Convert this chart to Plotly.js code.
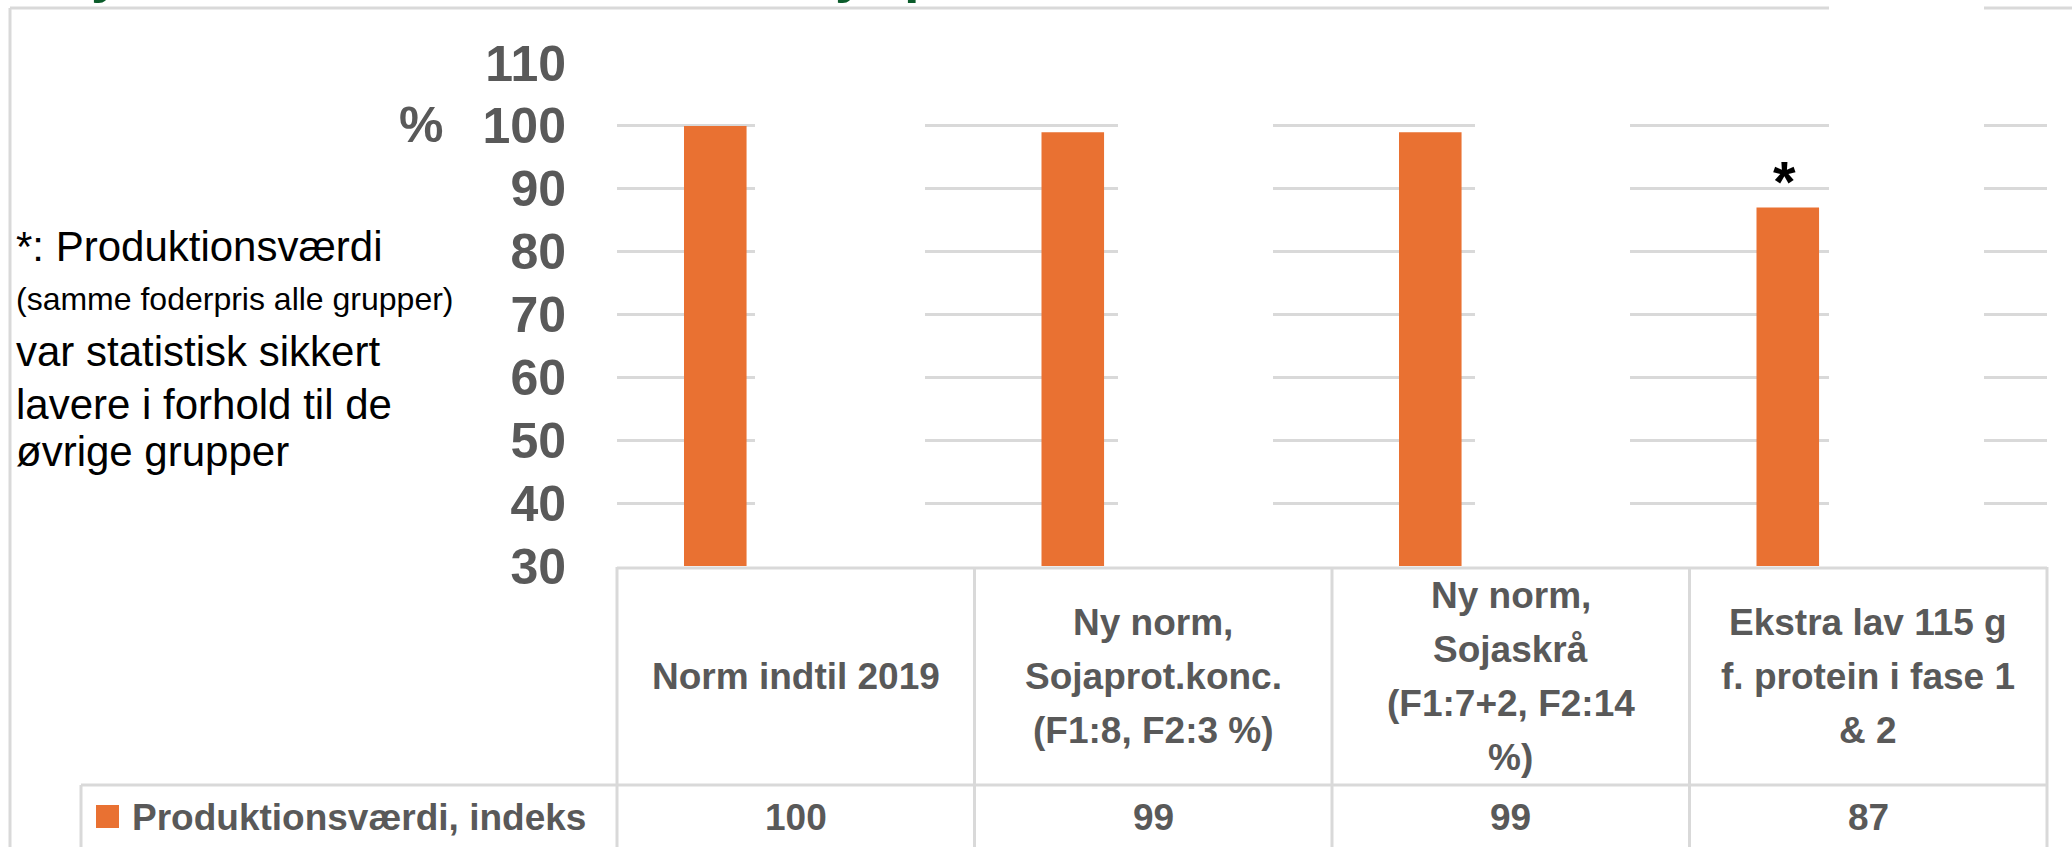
<!DOCTYPE html>
<html>
<head>
<meta charset="utf-8">
<script src="https://cdn.plot.ly/plotly-3.0.1.min.js"></script>
<style>
  html, body { margin: 0; padding: 0; background: #ffffff; }
  #chart { width: 2072px; height: 847px; }
</style>
</head>
<body>
<div id="chart"></div>
<script>
// ---------------- data ----------------
const categoryLines = [
  ["Norm indtil 2019"],
  ["Ny norm,", "Sojaprot.konc.", "(F1:8, F2:3 %)"],
  ["Ny norm,", "Sojaskrå", "(F1:7+2, F2:14", "%)"],
  ["Ekstra lav 115 g", "f. protein i fase 1", "& 2"]
];
const categories = categoryLines.map(l => l.join(" "));
const values = [100, 99, 99, 87];
const seriesName = "Produktionsværdi, indeks";
const significant = [false, false, false, true];
const yTicks = [30, 40, 50, 60, 70, 80, 90, 100, 110];
const yUnit = "%";
const noteLines = [
  "*: Produktionsværdi",
  "(samme foderpris alle grupper)",
  "var statistisk sikkert",
  "lavere i forhold til de",
  "øvrige grupper"
];
const titleFragments = ["y", "y", "p"];

// ---------------- styling / layout ----------------
const W = 2072, H = 847;
const M = { l: 617, r: 25, t: 63, b: 281 };
const PW = W - M.l - M.r, PH = H - M.t - M.b;
const FONT = "Liberation Sans, Arial, sans-serif";
const GRAY = "#595959";
const LINE = "#D9D9D9";
const ORANGE = "#E97132";
const BAR_WIDTH = 0.175, BAR_OFFSET = -0.3126;

const px = X => (X - M.l) / PW;            // pixel -> paper x
const py = Y => (H - M.b - Y) / PH;         // pixel -> paper y

const shapes = [];
const annotations = [];
function hline(Y, X0, X1) {
  shapes.push({type: "line", xref: "paper", yref: "paper", x0: px(X0), x1: px(X1), y0: py(Y), y1: py(Y),
               line: {color: LINE, width: 3}, layer: "above"});
}
function vline(xp, Y0, Y1) {
  shapes.push({type: "line", xref: "paper", yref: "paper", x0: xp, x1: xp, y0: py(Y0), y1: py(Y1),
               line: {color: LINE, width: 3}, layer: "above"});
}
function whiteBox(X0, X1, Y0, Y1) {
  shapes.push({type: "rect", xref: "paper", yref: "paper", x0: px(X0), x1: px(X1), y0: py(Y0), y1: py(Y1),
               fillcolor: "#ffffff", line: {width: 0}, layer: "above"});
}

// slide frame
hline(8, 10, W);
vline(px(10), 8, H);
// white text boxes of the slide that interrupt the gridlines
whiteBox(755, 925, 100, 565);
whiteBox(1118, 1273, 100, 565);
whiteBox(1475, 1630, 100, 565);
whiteBox(1829, 1984, -5, 565);

// data table
const n = categories.length;
hline(568, M.l, W - M.r);
hline(785, 81, W - M.r);
for (let k = 0; k <= n; k++) vline(k / n, 567, H + 5);
vline(px(81), 785, H + 5);
// legend key
shapes.push({type: "rect", xref: "paper", yref: "paper", x0: px(96), x1: px(119), y0: py(805), y1: py(828),
             fillcolor: ORANGE, line: {width: 0}, layer: "above"});

const headerCenter = 676, lineStep = 54, valueRowY = 817;
categoryLines.forEach((lines, i) => {
  lines.forEach((t, j) => {
    annotations.push({xref: "x", yref: "paper", x: i, y: py(headerCenter + (j - (lines.length - 1) / 2) * lineStep),
      text: t, showarrow: false, xanchor: "center", yanchor: "middle",
      font: {family: FONT, size: 37, color: GRAY, weight: "bold"}});
  });
  annotations.push({xref: "x", yref: "paper", x: i, y: py(valueRowY), text: String(values[i]),
    showarrow: false, xanchor: "center", yanchor: "middle",
    font: {family: FONT, size: 37, color: GRAY, weight: "bold"}});
  if (significant[i]) {
    annotations.push({xref: "x", yref: "y", x: i + BAR_OFFSET + BAR_WIDTH / 2, y: values[i] + 4.2, text: "*",
      showarrow: false, xanchor: "center", yanchor: "middle", xshift: -3,
      font: {family: FONT, size: 58, color: "#000000", weight: "bold"}});
  }
});
annotations.push({xref: "paper", yref: "paper", x: px(130), y: py(valueRowY), text: seriesName,
  showarrow: false, xanchor: "left", yanchor: "middle",
  font: {family: FONT, size: 37, color: GRAY, weight: "bold"}});

// y unit
annotations.push({xref: "paper", yref: "paper", x: px(421), y: py(125), text: yUnit, showarrow: false,
  xanchor: "center", yanchor: "middle", font: {family: FONT, size: 50, color: GRAY, weight: "bold"}});

// left note
const noteY = [246, 299, 351, 404, 451];
const noteSize = [42, 32, 42, 42, 42];
noteLines.forEach((t, j) => {
  annotations.push({xref: "paper", yref: "paper", x: px(14), y: py(noteY[j]), text: t, showarrow: false,
    xanchor: "left", yanchor: "middle", font: {family: FONT, size: noteSize[j], color: "#000000"}});
});

// cut-off slide title (only descenders visible)
const fragX = [106, 850, 921];
titleFragments.forEach((t, j) => {
  annotations.push({xref: "paper", yref: "paper", x: px(fragX[j]), y: py(4), text: t, showarrow: false,
    xanchor: "center", yanchor: "bottom", borderpad: 0,
    font: {family: FONT, size: 56, color: "#0B5C2B", weight: "bold"}});
});

const trace = {
  type: "bar",
  x: categories,
  y: values,
  name: seriesName,
  width: BAR_WIDTH,
  offset: BAR_OFFSET,
  marker: {color: ORANGE, line: {width: 0}},
  hoverinfo: "skip"
};

const layout = {
  width: W, height: H,
  margin: M,
  paper_bgcolor: "#ffffff",
  plot_bgcolor: "#ffffff",
  showlegend: false,
  xaxis: {type: "category", range: [-0.5, n - 0.5], showticklabels: false, showgrid: false,
          zeroline: false, showline: false, ticks: "", fixedrange: true},
  yaxis: {range: [yTicks[0], yTicks[yTicks.length - 1]], tickmode: "array", tickvals: yTicks,
          ticktext: yTicks.map(String), showgrid: true, gridcolor: LINE, gridwidth: 3,
          zeroline: false, showline: false, ticks: "", ticklabelstandoff: 50,
          tickfont: {family: FONT, size: 50, color: GRAY, weight: "bold"}, fixedrange: true},
  shapes: shapes,
  annotations: annotations
};

Plotly.newPlot("chart", [trace], layout, {displayModeBar: false, staticPlot: true});
</script>
</body>
</html>
